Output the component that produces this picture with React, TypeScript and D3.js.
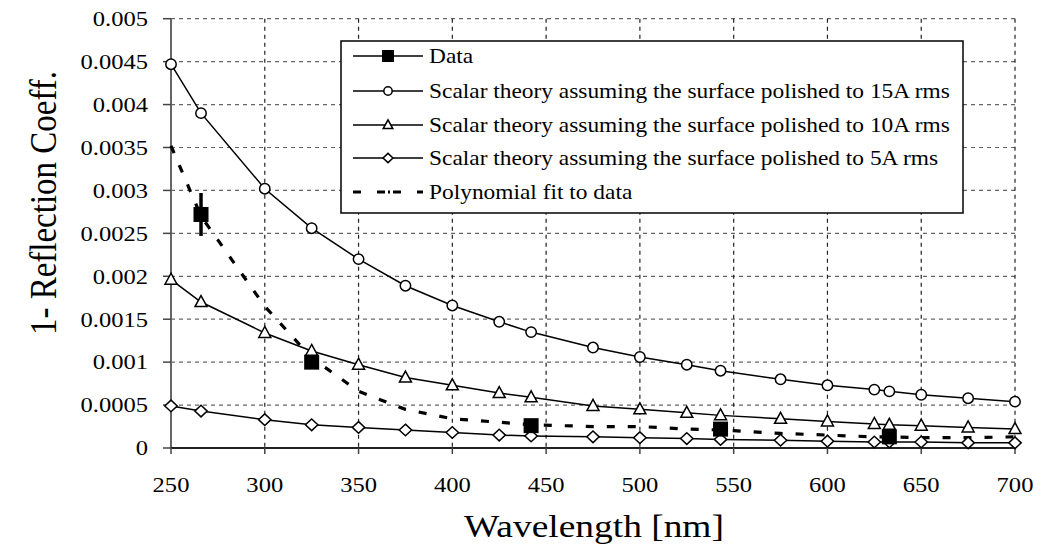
import React from "react";
import * as d3 from "d3";

const wavelengths = [250, 266, 300, 325, 350, 375, 400, 425, 442, 475, 500, 525, 543, 575, 600, 625, 633, 650, 675, 700];
const theory15 = [0.00447, 0.0039, 0.00302, 0.00256, 0.0022, 0.00189, 0.00166, 0.00147, 0.00135, 0.00117, 0.00106, 0.00097, 0.0009, 0.0008, 0.00073, 0.00068, 0.00066, 0.00062, 0.00058, 0.00054];
const theory10 = [0.00196, 0.0017, 0.00134, 0.00113, 0.00097, 0.00082, 0.00073, 0.00064, 0.00059, 0.00049, 0.00045, 0.00041, 0.00038, 0.00034, 0.00031, 0.00028, 0.00027, 0.00026, 0.00024, 0.00022];
const theory5 = [0.00049, 0.00043, 0.00033, 0.00027, 0.00024, 0.00021, 0.00018, 0.00015, 0.00014, 0.00013, 0.00012, 0.00011, 0.0001, 0.00009, 0.00008, 0.00007, 0.00007, 0.00007, 0.00006, 0.00006];
const polyFit = [0.00352, 0.0027, 0.00165, 0.00105, 0.00066, 0.00045, 0.00034, 0.0003, 0.00027, 0.00025, 0.00025, 0.00022, 0.00021, 0.00017, 0.00015, 0.00013, 0.00013, 0.00012, 0.00012, 0.00013];
const dataX = [266, 325, 442, 543, 633];
const dataY = [0.00272, 0.001, 0.00026, 0.00022, 0.00013];
const dataErr = [0.00025, 0.00004, 0.00003, 0.00003, 0.00003];
const xTicks = [250, 300, 350, 400, 450, 500, 550, 600, 650, 700];
const yTicks = [0, 0.0005, 0.001, 0.0015, 0.002, 0.0025, 0.003, 0.0035, 0.004, 0.0045, 0.005];
const yTickLabels = ["0", "0.0005", "0.001", "0.0015", "0.002", "0.0025", "0.003", "0.0035", "0.004", "0.0045", "0.005"];
const legendLabels = [
  "Data",
  "Scalar theory assuming the surface polished to 15A rms",
  "Scalar theory assuming the surface polished to 10A rms",
  "Scalar theory assuming the surface polished to 5A rms",
  "Polynomial fit to data",
];

const FONT = "Liberation Serif";
const SX = 1.17;

function Marker({ kind, x, y, s = 1 }: { kind: string; x: number; y: number; s?: number }) {
  if (kind === "circle") return <circle cx={x} cy={y} r={5.2 * s} fill="#fff" stroke="#000" strokeWidth={1.5} />;
  if (kind === "triangle")
    return <path d={`M${x},${y - 6.5 * s} L${x + 6 * s},${y + 4.5 * s} L${x - 6 * s},${y + 4.5 * s} Z`} fill="#fff" stroke="#000" strokeWidth={1.5} />;
  if (kind === "diamond")
    return <path d={`M${x},${y - 5.8 * s} L${x + 6.2 * s},${y} L${x},${y + 5.8 * s} L${x - 6.2 * s},${y} Z`} fill="#fff" stroke="#000" strokeWidth={1.5} />;
  return <rect x={x - 7.5 * s} y={y - 7.5 * s} width={15 * s} height={15 * s} fill="#000" />;
}

function SText({ x, y, anchor = "start", size = 20, children, rotate = false }: any) {
  const tr = rotate ? `translate(${x},${y}) rotate(-90) scale(1,${SX})` : `translate(${x},${y}) scale(${SX},1)`;
  return (
    <text transform={tr} textAnchor={anchor} style={{ fontFamily: FONT }} fontSize={size} fill="#000">
      {children}
    </text>
  );
}

export default function App() {
  const W = 1044, H = 552;
  const x = d3.scaleLinear().domain([250, 700]).range([171, 1015]);
  const y = d3.scaleLinear().domain([0, 0.005]).range([448, 18.7]);
  const line = d3.line<[number, number]>().x((d) => x(d[0])).y((d) => y(d[1]));
  const series = [
    { vals: theory15, kind: "circle" },
    { vals: theory10, kind: "triangle" },
    { vals: theory5, kind: "diamond" },
  ];
  const pts = (vals: number[]) => wavelengths.map((w, i) => [w, vals[i]] as [number, number]);
  const lgX = 341, lgY = 41, lgW = 622, lgH = 172;
  const rowY = [56, 91, 125, 158, 192];
  const dash = "8,13";
  return (
    <svg width={W} height={H} style={{ position: "absolute", left: 0, top: 0, background: "#fff" }}>
      <rect width={W} height={H} fill="#fff" />
      {yTicks.slice(1).map((t) => (
        <line key={"gy" + t} x1={x(250)} x2={x(700)} y1={y(t)} y2={y(t)} stroke="#666" strokeWidth={1.2} strokeDasharray="4,4" />
      ))}
      {xTicks.slice(1).map((t) => (
        <line key={"gx" + t} x1={x(t)} x2={x(t)} y1={y(0.005)} y2={y(0)} stroke="#222" strokeWidth={1.2} strokeDasharray="4,4" />
      ))}
      <line x1={x(250)} x2={x(250)} y1={y(0.005)} y2={y(0)} stroke="#666" strokeWidth={2} />
      {yTicks.map((t) => (
        <line key={"ty" + t} x1={x(250) - 8} x2={x(250)} y1={y(t)} y2={y(t)} stroke="#444" strokeWidth={1.5} />
      ))}
      <line x1={x(250)} x2={x(700)} y1={y(0)} y2={y(0)} stroke="#222" strokeWidth={2} />
      {xTicks.map((t) => (
        <line key={"tx" + t} x1={x(t)} x2={x(t)} y1={y(0)} y2={y(0) + 6} stroke="#444" strokeWidth={1.5} />
      ))}
      {yTicks.map((t, i) => (
        <SText key={"ly" + t} x={148} y={y(t) + 7.3} anchor="end" size={21}>{yTickLabels[i]}</SText>
      ))}
      {xTicks.map((t) => (
        <SText key={"lx" + t} x={x(t)} y={492} anchor="middle" size={21}>{String(t)}</SText>
      ))}
      <SText x={594} y={537} anchor="middle" size={32}>Wavelength [nm]</SText>
      <SText x={56} y={203} anchor="middle" size={33} rotate>1- Reflection Coeff.</SText>
      {series.map((s, si) => (
        <path key={"s" + si} d={line(pts(s.vals)) || ""} fill="none" stroke="#000" strokeWidth={1.5} />
      ))}
      <path d={line(pts(polyFit)) || ""} fill="none" stroke="#000" strokeWidth={3.2} strokeDasharray={dash} />
      {series.map((s, si) => (
        <g key={"m" + si}>
          {wavelengths.map((w, i) => (
            <Marker key={i} kind={s.kind} x={x(w)} y={y(s.vals[i])} />
          ))}
        </g>
      ))}
      {dataX.map((w, i) => (
        <g key={"d" + i}>
          <line x1={x(w)} x2={x(w)} y1={y(dataY[i] - dataErr[i])} y2={y(dataY[i] + dataErr[i])} stroke="#000" strokeWidth={3.5} />
          <Marker kind="square" x={x(w)} y={y(dataY[i])} />
        </g>
      ))}
      <rect x={lgX} y={lgY} width={lgW} height={lgH} fill="#fff" stroke="#000" strokeWidth={1.5} />
      {legendLabels.map((lab, i) => (
        <g key={"lg" + i}>
          {i < 4 ? (
            <>
              <line x1={353} x2={423} y1={rowY[i]} y2={rowY[i]} stroke="#000" strokeWidth={1.5} />
              <Marker kind={["square", "circle", "triangle", "diamond"][i]} x={388} y={rowY[i]} s={0.8} />
            </>
          ) : (
            <line x1={353} x2={423} y1={rowY[i]} y2={rowY[i]} stroke="#000" strokeWidth={3.2} strokeDasharray="8,16,8,3,2,3" />
          )}
          <SText x={429} y={rowY[i] + 7}>{lab}</SText>
        </g>
      ))}
    </svg>
  );
}
